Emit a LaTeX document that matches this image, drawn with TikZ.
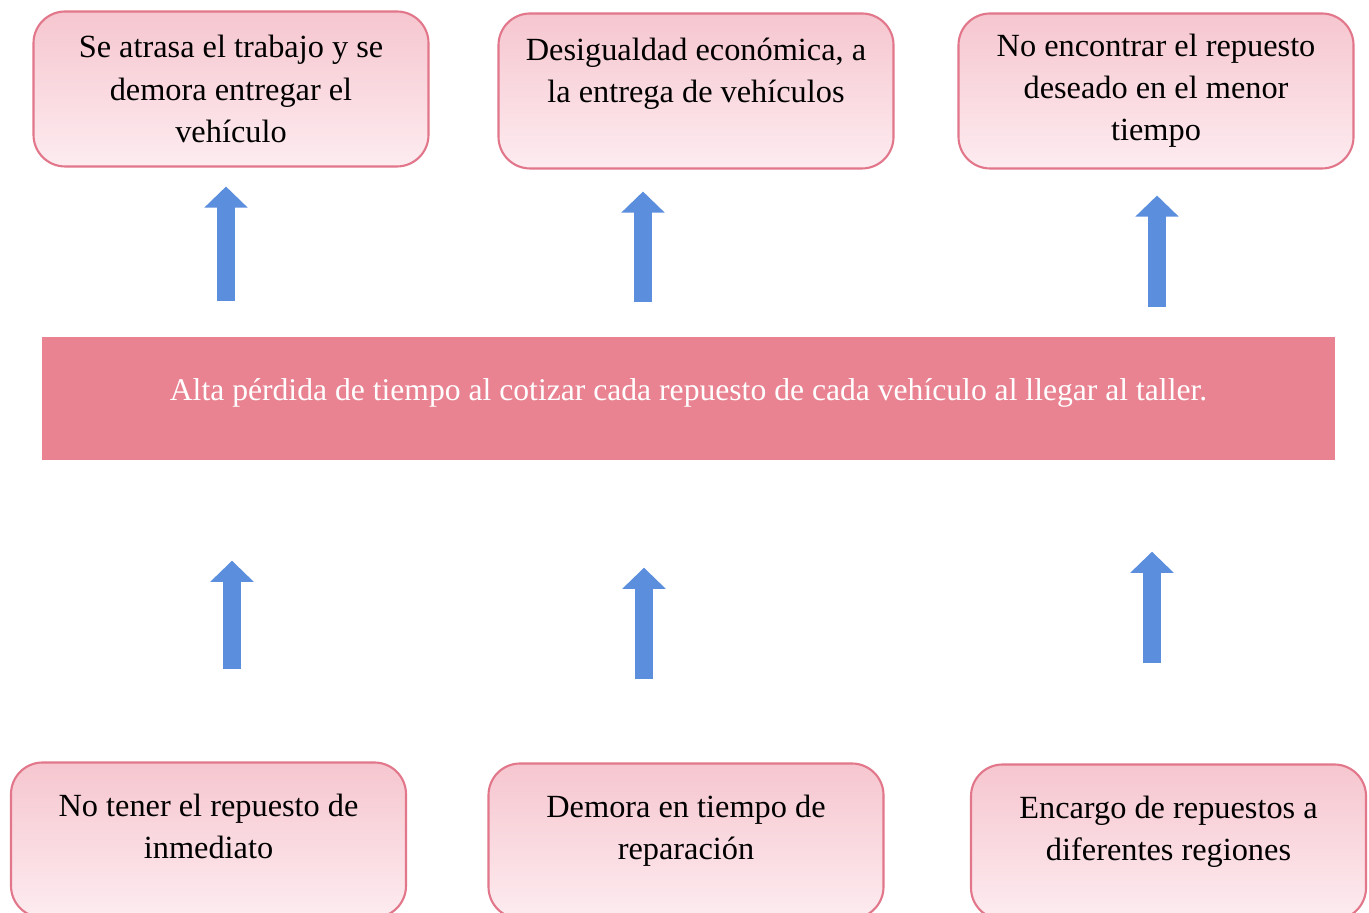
\documentclass[tikz,border=0pt]{standalone}
\usepackage{fontspec}
\setmainfont{Liberation Serif}
\usetikzlibrary{arrows.meta}

\definecolor{rosaborde}{RGB}{226,118,138}
\definecolor{rosaarriba}{RGB}{246,198,207}
\definecolor{rosaabajo}{RGB}{253,236,240}
\definecolor{rosafranja}{RGB}{233,131,146}
\definecolor{azulflecha}{RGB}{92,142,222}

\begin{document}
\begin{tikzpicture}[
    caja/.style={draw=rosaborde, line width=0.6pt, rounded corners=9pt,
        top color=rosaarriba, bottom color=rosaabajo,
        minimum width=3.95cm, minimum height=1.55cm, align=center,
        font=\fontsize{9.2}{12}\selectfont},
    franja/.style={fill=rosafranja, minimum width=12.93cm, minimum height=1.23cm,
        text=white, font=\fontsize{9}{11}\selectfont},
    flecha/.style={azulflecha, line width=5pt,
        -{Triangle[width=12pt, length=6pt]}}
]
    \useasboundingbox (0,0) rectangle (13.69,9.13);

    % Efectos (arriba)
    \node[caja] (e1) at (2.31,8.24) {Se atrasa el trabajo y se\\ demora entregar el\\ vehículo};
    \node[caja] (e2) at (6.96,8.22) {Desigualdad económica, a\\ la entrega de vehículos\\ \mbox{}};
    \node[caja] (e3) at (11.56,8.22) {No encontrar el repuesto\\ deseado en el menor\\ tiempo};

    % Problema central
    \node[franja] (problema) at (6.885,5.145) {\raisebox{5pt}{Alta pérdida de tiempo al cotizar cada repuesto de cada vehículo al llegar al taller.}};

    % Causas (abajo)
    \node[caja] (c1) at (2.085,0.73) {No tener el repuesto de\\ inmediato\\[-4pt] \mbox{}};
    \node[caja] (c2) at (6.86,0.72) {Demora en tiempo de\\ reparación\\[-4pt] \mbox{}};
    \node[caja] (c3) at (11.685,0.71) {Encargo de repuestos a\\ diferentes regiones\\[-4pt] \mbox{}};

    % Flechas hacia los efectos
    \draw[flecha, shorten <=0.35cm, shorten >=0.19cm] (2.26,0 |- problema.north) -- (2.26,0 |- e1.south);
    \draw[flecha, shorten <=0.34cm, shorten >=0.22cm] (6.43,0 |- problema.north) -- (6.43,0 |- e2.south);
    \draw[flecha, shorten <=0.29cm, shorten >=0.26cm] (11.57,0 |- problema.north) -- (11.57,0 |- e3.south);

    % Flechas desde las causas
    \draw[flecha, shorten <=0.92cm, shorten >=1.0cm] (2.32,0 |- c1.north) -- (2.32,0 |- problema.south);
    \draw[flecha, shorten <=0.83cm, shorten >=1.07cm] (6.44,0 |- c2.north) -- (6.44,0 |- problema.south);
    \draw[flecha, shorten <=1.0cm, shorten >=0.91cm] (11.52,0 |- c3.north) -- (11.52,0 |- problema.south);
\end{tikzpicture}
\end{document}
